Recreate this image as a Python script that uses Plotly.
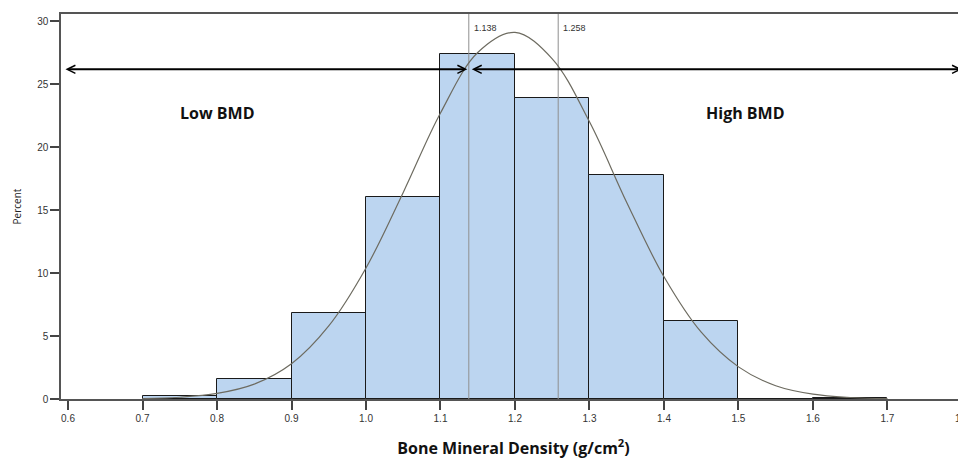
import plotly.graph_objects as go

# Histogram bins (Bone Mineral Density, g/cm2) and percentages
bin_starts = [0.7, 0.8, 0.9, 1.0, 1.1, 1.2, 1.3, 1.4, 1.5, 1.6]
bin_width = 0.1
percents = [0.26, 1.6, 6.8, 16.0, 27.4, 23.9, 17.8, 6.2, 0.0, 0.1]

# Fitted normal curve
curve_x = [0.70, 0.75, 0.80, 0.85, 0.90, 0.95, 1.00, 1.05, 1.10, 1.15, 1.20,
           1.25, 1.30, 1.35, 1.40, 1.45, 1.50, 1.55, 1.60, 1.65, 1.70]
curve_y = [0.04, 0.14, 0.44, 1.18, 2.8, 5.8, 10.4, 16.4, 22.7, 27.5, 29.1,
           27.0, 22.0, 15.6, 9.7, 5.3, 2.55, 1.05, 0.38, 0.12, 0.03]

# Cut points
cut_points = [1.138, 1.258]
cut_labels = ["1.138", "1.258"]

# Arrow level and region labels
arrow_level = 26.17
region_labels = ["Low BMD", "High BMD"]
region_label_x = [0.80, 1.51]
region_label_y = [22.7, 22.7]

x_ticks = [0.6, 0.7, 0.8, 0.9, 1.0, 1.1, 1.2, 1.3, 1.4, 1.5, 1.6, 1.7, 1.8]
y_ticks = [0, 5, 10, 15, 20, 25, 30]

x_range = [0.5906, 1.8054]
y_range = [0, 30.56]

fig = go.Figure()

centers = [s + bin_width / 2 for s in bin_starts]
fig.add_trace(go.Bar(
    x=centers, y=percents, width=bin_width,
    marker=dict(color="#bcd5f0", line=dict(color="#1a1a1a", width=1)),
    hoverinfo="skip", showlegend=False,
))

for cp in cut_points:
    fig.add_trace(go.Scatter(
        x=[cp, cp], y=[0, y_range[1]], mode="lines",
        line=dict(color="#8f8f8f", width=1), showlegend=False, hoverinfo="skip",
    ))

fig.add_trace(go.Scatter(
    x=curve_x, y=curve_y, mode="lines", line=dict(color="#6d6b60", width=1.2, shape="spline"),
    showlegend=False, hoverinfo="skip",
))

annotations = []
for cp, lab in zip(cut_points, cut_labels):
    annotations.append(dict(
        x=cp, y=y_range[1] - 0.55, xref="x", yref="y", text=lab, showarrow=False,
        xanchor="left", yanchor="top", xshift=3,
        font=dict(family="Liberation Sans", size=9, color="#333333"),
    ))

# double-headed arrows
arrow_segments = [(x_range[0] + 0.0040, cut_points[0] - 0.002), (cut_points[0] + 0.002, 1.800)]
for a0, a1 in arrow_segments:
    annotations.append(dict(
        x=a1, y=arrow_level, ax=a0, ay=arrow_level, xref="x", yref="y", axref="x", ayref="y",
        text="", showarrow=True, arrowhead=5, startarrowhead=5, arrowside="end+start",
        arrowsize=0.8, startarrowsize=0.8, arrowwidth=2, arrowcolor="#000000",
    ))

for lab, lx, ly in zip(region_labels, region_label_x, region_label_y):
    annotations.append(dict(
        x=lx, y=ly, xref="x", yref="y", text="<b>" + lab + "</b>", showarrow=False,
        font=dict(family="Open Sans", size=16, color="#111111"),
    ))

fig.update_layout(
    width=958, height=452,
    margin=dict(l=53, r=0, t=6, b=61),
    paper_bgcolor="white", plot_bgcolor="white",
    bargap=0,
    annotations=annotations,
    xaxis=dict(
        range=x_range, tickvals=x_ticks, ticktext=[f"{v:.1f}" for v in x_ticks],
        ticks="outside", ticklen=9, tickwidth=1.5, tickcolor="#444444",
        showline=True, linecolor="#555555", linewidth=1.5, mirror=True,
        showgrid=False, zeroline=False, ticklabeloverflow="allow", automargin=False,
        tickfont=dict(family="Liberation Sans", size=10, color="#333333"),
        title=dict(text="<b>Bone Mineral Density (g/cm<sup>2</sup>)</b>", standoff=20,
                   font=dict(family="Open Sans", size=16, color="#111111")),
    ),
    yaxis=dict(
        range=y_range, tickvals=y_ticks, automargin=False,
        ticks="outside", ticklen=9, tickwidth=1.5, tickcolor="#444444",
        showline=True, linecolor="#555555", linewidth=1.5,
        showgrid=False, zeroline=False,
        tickfont=dict(family="Liberation Sans", size=10, color="#333333"),
        title=dict(text="Percent", standoff=14,
                   font=dict(family="Open Sans", size=10, color="#222222")),
    ),
)

fig.write_html("out.html")
